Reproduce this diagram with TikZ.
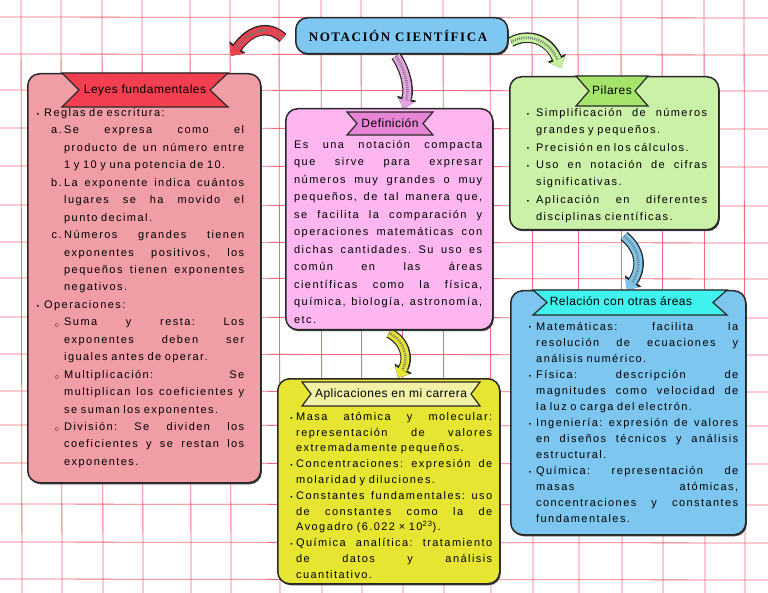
\documentclass[tikz,border=0pt]{standalone}
\usepackage{fontspec}
\usepackage{graphicx}
\setmainfont{Liberation Sans}
\newfontfamily\bodyfont[LetterSpace=13]{Liberation Sans}
\newfontfamily\ribfont[LetterSpace=4]{Liberation Sans}
\newfontfamily\ttlfont[LetterSpace=12]{Liberation Serif}
\usetikzlibrary{arrows.meta,shadows}

\definecolor{gridred}{RGB}{240,80,100}
\definecolor{boxline}{RGB}{40,40,40}
\definecolor{titleblue}{RGB}{126,199,240}
\definecolor{pinkbox}{RGB}{241,157,165}
\definecolor{redrib}{RGB}{244,63,81}
\definecolor{defbox}{RGB}{253,182,240}
\definecolor{defrib}{RGB}{230,132,214}
\definecolor{yelbox}{RGB}{230,229,49}
\definecolor{yelrib}{RGB}{242,241,166}
\definecolor{grnbox}{RGB}{203,241,168}
\definecolor{grnrib}{RGB}{165,228,106}
\definecolor{blubox}{RGB}{125,198,239}
\definecolor{cyanrib}{RGB}{64,242,238}
\definecolor{redarr}{RGB}{242,64,79}
\definecolor{grnarr}{RGB}{198,243,154}
\definecolor{pinkarr}{RGB}{230,164,226}
\definecolor{yelarr}{RGB}{230,229,52}
\definecolor{bluarr}{RGB}{125,198,239}

\newlength\BW
\newcommand\JS[2]{\noindent\hspace*{#1pt}\hbox to \dimexpr\BW-#1pt\relax{\frenchspacing\spaceskip=\fontdimen2\font plus 1fil\relax\xspaceskip=\spaceskip\strut#2}\par}
\newcommand\LS[2]{\noindent\hspace*{#1pt}{\frenchspacing\strut#2}\par}
\newcommand\bul[1][5pt]{\llap{\raisebox{0.2pt}{\scalebox{0.6}{\textbullet}}\hspace{#1}}}
\newcommand\lab[1]{\llap{#1\hspace{2.5pt}}}
\newcommand\cir{\llap{\raisebox{-1.2pt}{$\scriptstyle\circ$}\hspace{5pt}}}

\begin{document}
\begin{tikzpicture}[x=1pt,y=-1pt,
  gridline/.style={draw=gridred, line width=0.8pt, opacity=0.85},
  box/.style={draw=boxline, line width=1.5pt, rounded corners=12pt, anchor=north west, inner sep=0pt,
    drop shadow={shadow xshift=1pt,shadow yshift=-1.5pt,fill=black!75,opacity=1}},
  ribbon/.style={draw=boxline, line width=1.2pt, line join=miter},
  ribtext/.style={font=\ribfont\fontsize{12}{14}\selectfont, inner sep=0pt},
  body/.style={anchor=north west, inner sep=0pt, text width=#1, align=left},
  arrout/.style={line width=10.5pt, draw=boxline, -{Triangle[width=20pt,length=11pt,line width=0pt]}},
  arrin/.style={line width=8pt, draw=#1, -{Triangle[width=16.5pt,length=9pt,line width=0pt]}},
  hatch/.style={line width=2.5pt, draw=black!55, dash pattern=on 0.9pt off 1.3pt, shorten >=9pt}
]
\useasboundingbox (0,0) rectangle (768,593);
\fill[white] (0,0) rectangle (768,593);

% grid
\foreach \gx in {21,61,102,142,190,230,279,321,361,402,443,490,532,578,621,662,704,744}
  \draw[gridline] (\gx,0) -- (\gx+1,593);
\foreach \gy in {17,54,90,128,166,205,242,278,317,354,391,425,463,504,542,579}
  \draw[gridline] (0,\gy) -- (768,\gy+1);

% title
\node[box, fill=titleblue, minimum width=212pt, minimum height=36pt] (titlebox) at (295,17) {};
\node[font=\ttlfont\bfseries\fontsize{13}{15}\selectfont, inner sep=0pt] (title) at (398,35.5) {NOTACIÓN CIENTÍFICA};

% arrows
\coordinate (redS) at (283,38);
\coordinate (redE) at (231,56);
\coordinate (grnS) at (511,42);
\coordinate (grnE) at (561,68);
\coordinate (pnkS) at (396,56);
\coordinate (pnkE) at (404,109);
\coordinate (yelS) at (389,333);
\coordinate (yelE) at (398,378);
\coordinate (bluS) at (624,236);
\coordinate (bluE) at (627,290);

\draw[arrout] (redS) .. controls (268,24) and (250,30) .. (redE);
\draw[arrin=redarr] (redS) .. controls (268,24) and (250,30) .. (redE);
\draw[hatch] (redS) .. controls (268,24) and (250,30) .. (redE);

\draw[arrout] (grnS) .. controls (527,33) and (548,38) .. (grnE);
\draw[arrin=grnarr] (grnS) .. controls (527,33) and (548,38) .. (grnE);
\draw[hatch] (grnS) .. controls (527,33) and (548,38) .. (grnE);

\draw[arrout] (pnkS) .. controls (404,68) and (410,86) .. (pnkE);
\draw[arrin=pinkarr] (pnkS) .. controls (404,68) and (410,86) .. (pnkE);
\draw[hatch] (pnkS) .. controls (404,68) and (410,86) .. (pnkE);

\draw[arrout] (yelS) .. controls (405,341) and (409,358) .. (yelE);
\draw[arrin=yelarr] (yelS) .. controls (405,341) and (409,358) .. (yelE);
\draw[hatch] (yelS) .. controls (405,341) and (409,358) .. (yelE);

\draw[arrout] (bluS) .. controls (641,250) and (642,268) .. (bluE);
\draw[arrin=bluarr] (bluS) .. controls (641,250) and (642,268) .. (bluE);
\draw[hatch] (bluS) .. controls (641,250) and (642,268) .. (bluE);

% boxes
\node[box, fill=pinkbox, minimum width=233pt, minimum height=409pt] (leyes) at (27,73) {};
\node[box, fill=defbox, minimum width=207pt, minimum height=221pt] (defin) at (285,108) {};
\node[box, fill=yelbox, minimum width=222pt, minimum height=205pt] (aplic) at (277,378) {};
\node[box, fill=grnbox, minimum width=209pt, minimum height=153pt] (pilar) at (509,76) {};
\node[box, fill=blubox, minimum width=235pt, minimum height=244pt] (relac) at (510,290) {};

% ribbons
\draw[ribbon, fill=redrib] (62,73) -- (228,73) -- (210,90) -- (228,107) -- (62,107) -- (79,90) -- cycle;
\node[ribtext] (leyesT) at (145,90) {Leyes fundamentales};
\draw[ribbon, fill=defrib] (347,112) -- (433,112) -- (423,123.5) -- (433,135) -- (347,135) -- (357,123.5) -- cycle;
\node[ribtext] (definT) at (390,123.5) {Definición};
\draw[ribbon, fill=yelrib] (302,382) -- (480,382) -- (471,394) -- (480,406) -- (302,406) -- (311,394) -- cycle;
\node[ribtext] (aplicT) at (391,394) {Aplicaciones en mi carrera};
\draw[ribbon, fill=grnrib] (576,76) -- (648,76) -- (635,91) -- (648,106) -- (576,106) -- (589,91) -- cycle;
\node[ribtext] (pilarT) at (612,90) {Pilares};
\draw[ribbon, fill=cyanrib] (533,290) -- (727,290) -- (713,302.5) -- (727,315) -- (533,315) -- (547,302.5) -- cycle;
\node[ribtext] (relacT) at (621,301) {Relación con otras áreas};

% texts
\setlength\BW{214pt}
\node[body=214pt, font=\bodyfont\fontsize{11}{17.45}\selectfont] (leyesX) at (30,104) {%
\LS{14}{\bul Reglas de escritura:}
\JS{34}{\lab{a.}Se expresa como el}
\JS{34}{producto de un número entre}
\LS{34}{1 y 10 y una potencia de 10.}
\JS{34}{\lab{b.}La exponente indica cuántos}
\JS{34}{lugares se ha movido el}
\LS{34}{punto decimal.}
\JS{34}{\lab{c.}Números grandes tienen}
\JS{34}{exponentes positivos, los}
\JS{34}{pequeños tienen exponentes}
\LS{34}{negativos.}
\LS{14}{\bul Operaciones:}
\JS{34}{\cir Suma y resta: Los}
\JS{34}{exponentes deben ser}
\LS{34}{iguales antes de operar.}
\JS{34}{\cir Multiplicación: Se}
\JS{34}{multiplican los coeficientes y}
\LS{34}{se suman los exponentes.}
\JS{34}{\cir División: Se dividen los}
\JS{34}{coeficientes y se restan los}
\LS{34}{exponentes.}};

\setlength\BW{188pt}
\node[body=188pt, font=\bodyfont\fontsize{11}{17.5}\selectfont] (definX) at (294,135.8) {%
\JS{0}{Es una notación compacta}
\JS{0}{que sirve para expresar}
\JS{0}{números muy grandes o muy}
\JS{0}{pequeños, de tal manera que,}
\JS{0}{se facilita la comparación y}
\JS{0}{operaciones matemáticas con}
\JS{0}{dichas cantidades. Su uso es}
\JS{0}{común en las áreas}
\JS{0}{científicas como la física,}
\JS{0}{química, biología, astronomía,}
\LS{0}{etc.}};

\setlength\BW{196pt}
\node[body=196pt, font=\bodyfont\fontsize{11}{15.8}\selectfont] (aplicX) at (296,409) {%
\JS{0}{\bul[3.5pt]Masa atómica y molecular:}
\JS{0}{representación de valores}
\LS{0}{extremadamente pequeños.}
\JS{0}{\bul[3.5pt]Concentraciones: expresión de}
\LS{0}{molaridad y diluciones.}
\JS{0}{\bul[3.5pt]Constantes fundamentales: uso}
\JS{0}{de constantes como la de}
\LS{0}{Avogadro (6.022 × 10\textsuperscript{23}).}
\JS{0}{\bul[3.5pt]Química analítica: tratamiento}
\JS{0}{de datos y análisis}
\LS{0}{cuantitativo.}};

\setlength\BW{171pt}
\node[body=171pt, font=\bodyfont\fontsize{11}{17.4}\selectfont] (pilarX) at (536,104) {%
\JS{0}{\bul[7pt]Simplificación de números}
\LS{0}{grandes y pequeños.}
\LS{0}{\bul[7pt]Precisión en los cálculos.}
\JS{0}{\bul[7pt]Uso en notación de cifras}
\LS{0}{significativas.}
\JS{0}{\bul[7pt]Aplicación en diferentes}
\LS{0}{disciplinas científicas.}};

\setlength\BW{202pt}
\node[body=202pt, font=\bodyfont\fontsize{11}{16}\selectfont] (relacX) at (536,318.8) {%
\JS{0}{\bul[5pt]Matemáticas: facilita la}
\JS{0}{resolución de ecuaciones y}
\LS{0}{análisis numérico.}
\JS{0}{\bul[5pt]Física: descripción de}
\JS{0}{magnitudes como velocidad de}
\LS{0}{la luz o carga del electrón.}
\JS{0}{\bul[5pt]Ingeniería: expresión de valores}
\JS{0}{en diseños técnicos y análisis}
\LS{0}{estructural.}
\JS{0}{\bul[5pt]Química: representación de}
\JS{0}{masas atómicas,}
\JS{0}{concentraciones y constantes}
\LS{0}{fundamentales.}};
\end{tikzpicture}
\end{document}
